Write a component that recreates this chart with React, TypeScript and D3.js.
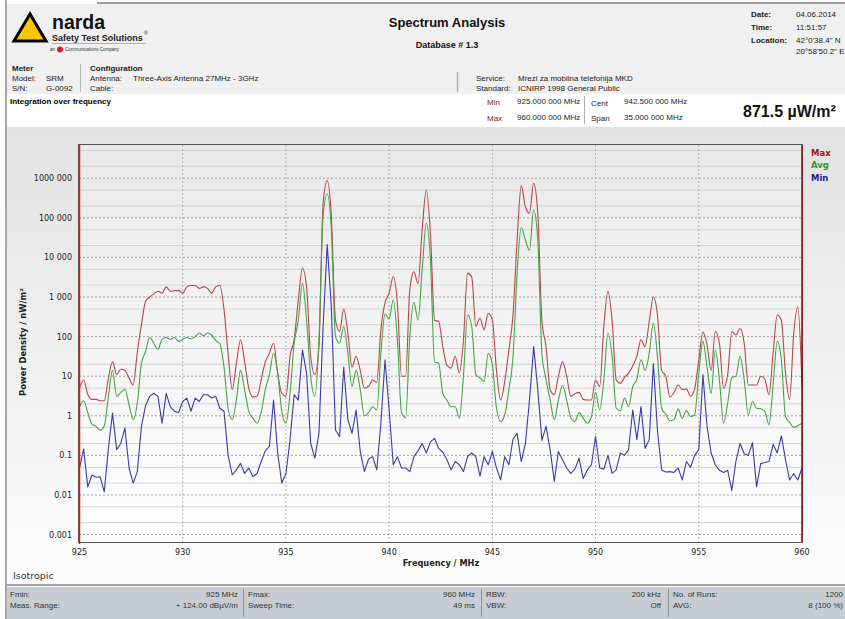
import React from 'react';
import * as d3 from 'd3';

// sweep points, 0.2 MHz apart
const freqStart = 925;
const freqStep = 0.2;

// Max trace, nW/m²
const maxVals = [
  5, 8, 3.5, 2.6, 2.6, 2.4, 2.4, 9, 23, 11,
  15, 14, 9, 6, 40, 200, 780, 1000, 1200, 1400,
  1250, 1800, 1400, 1450, 1450, 1250, 1800, 1950, 1950, 1650,
  1800, 1650, 1250, 1800, 1950, 480, 36, 4.6, 21, 83,
  23, 5, 3, 3.1, 8, 23, 38, 68, 12, 3.7,
  3.1, 32, 85, 850, 5400, 1800, 32, 11, 56, 230000,
  870000, 108000, 260, 135, 490, 123, 17, 32, 14, 5,
  5.5, 8, 7, 150, 720, 1250, 3300, 690, 10, 10,
  1500, 4300, 2200, 50000, 510000, 41000, 260, 240, 56, 19,
  16, 32, 12, 83, 4000, 3200, 180, 290, 150, 390,
  260, 14, 2.5, 7.4, 46, 350, 28000, 650000, 190000, 130000,
  750000, 130000, 260, 56, 4.6, 3.4, 10, 23, 10, 3.1,
  3.6, 3.9, 2.6, 2.5, 2.5, 8, 5.5, 180, 1400, 260,
  8, 6.6, 9.3, 12, 18, 32, 83, 56, 240, 1000,
  340, 14, 10, 3, 3.9, 6, 4.6, 4.8, 3.1, 4.7,
  26, 130, 62, 14, 135, 68, 5, 11, 135, 110,
  160, 68, 6, 6, 6, 10, 8.4, 3.4, 38, 350,
  260, 12, 2.6, 120, 570, 5.5,
];

// Avg trace, nW/m²
const avgVals = [
  1.7, 2.4, 1.2, 0.62, 0.54, 0.43, 0.56, 3.1, 14, 3.1,
  3.9, 4.7, 1.9, 0.8, 2.1, 21, 42, 95, 68, 48,
  85, 95, 85, 95, 76, 85, 95, 87, 100, 123,
  105, 123, 110, 80, 66, 17, 1.55, 0.8, 2.5, 14,
  4.6, 1.3, 0.87, 0.65, 1.2, 4.6, 11, 38, 12, 1.3,
  0.65, 3.7, 68, 260, 2300, 260, 10, 3.1, 83, 108000,
  400000, 50000, 100, 68, 180, 38, 5.5, 14, 4.6, 1.0,
  1.2, 1.7, 1.4, 38, 370, 280, 850, 83, 1.2, 0.9,
  100, 740, 260, 4900, 73000, 8700, 23, 21, 3.7, 2.5,
  1.7, 1.7, 0.87, 10, 350, 180, 11, 9, 7.4, 38,
  20, 1.55, 0.72, 1.05, 4.6, 30, 4000, 57000, 28000, 15000,
  160000, 28000, 38, 8.3, 2.5, 0.8, 2.5, 5.8, 2.5, 0.9,
  0.71, 1.2, 0.87, 0.65, 0.96, 3.9, 1.4, 8, 123, 32,
  1.55, 1.35, 2.8, 1.7, 5.5, 8.3, 26, 14, 38, 220,
  30, 1.55, 1.1, 0.75, 0.8, 1.5, 0.87, 1.35, 0.96, 1.05,
  12, 76, 17, 3.7, 46, 8, 0.65, 2.1, 9.3, 10,
  32, 8, 1.05, 2.3, 1.55, 1.5, 1.3, 0.59, 6, 76,
  26, 0.96, 0.68, 0.51, 0.56, 0.65,
];

// Min trace, nW/m²
const minVals = [
  0.048, 0.145, 0.016, 0.032, 0.028, 0.029, 0.012, 0.15, 1.17, 0.14,
  0.2, 0.49, 0.048, 0.02, 0.039, 0.54, 1.8, 3.1, 3.7, 3.1,
  0.65, 3.7, 1.7, 1.3, 1.2, 2.3, 2.8, 1.3, 2.8, 2.3,
  3.4, 3.4, 2.8, 3.1, 1.55, 1.3, 0.1, 0.032, 0.043, 0.063,
  0.035, 0.048, 0.029, 0.035, 0.07, 0.13, 0.17, 2.5, 0.115, 0.02,
  0.035, 0.25, 3.4, 2.5, 46, 12, 0.2, 0.085, 0.36, 180,
  21000, 570, 0.44, 0.3, 17, 0.8, 0.36, 1.4, 0.126, 0.039,
  0.08, 0.093, 0.043, 0.65, 26, 1.4, 0.058, 0.093, 0.048, 0.048,
  0.039, 0.093, 0.13, 0.2, 0.115, 0.22, 0.27, 0.15, 0.12, 0.078,
  0.043, 0.07, 0.058, 0.039, 0.093, 0.115, 0.093, 0.03, 0.093, 0.058,
  0.126, 0.048, 0.024, 0.093, 0.058, 0.26, 0.36, 0.07, 0.2, 2.5,
  56, 4.6, 0.24, 0.54, 0.14, 0.022, 0.126, 0.078, 0.048, 0.035,
  0.045, 0.085, 0.026, 0.043, 0.058, 0.3, 0.048, 0.045, 0.1, 0.035,
  0.043, 0.115, 0.1, 0.14, 1.4, 0.25, 1.7, 0.15, 0.25, 21,
  0.4, 0.043, 0.038, 0.039, 0.037, 0.048, 0.024, 0.07, 0.05, 0.1,
  0.14, 11, 0.54, 0.115, 0.058, 0.042, 0.037, 0.042, 0.013, 0.072,
  0.2, 0.11, 0.1, 0.21, 0.016, 0.062, 0.066, 0.07, 0.19, 0.115,
  0.31, 0.078, 0.024, 0.035, 0.024, 0.048,
];

const xTicks = [925, 930, 935, 940, 945, 950, 955, 960];
const yTicks = [1e6, 1e5, 1e4, 1e3, 100, 10, 1, 0.1, 0.01, 0.001];
const yTickLabels = ['1000 000', '100 000', '10 000', '1 000', '100', '10', '1', '0.1', '0.01', '0.001'];

const series = [
  { name: 'Max', values: maxVals, color: '#b4474c', text: '#a01414', smooth: true },
  { name: 'Avg', values: avgVals, color: '#45a545', text: '#2f9a2f', smooth: true },
  { name: 'Min', values: minVals, color: '#3b3ba8', text: '#1e1e8e', smooth: false },
];

const footerRows = [
  [['Fmin:', '925 MHz'], ['Fmax:', '960 MHz'], ['RBW:', '200 kHz'], ['No. of Runs:', '1200']],
  [['Meas. Range:', '+ 124.00 dBµV/m'], ['Sweep Time:', '49 ms'], ['VBW:', 'Off'], ['AVG:', '8  (100 %)']],
];

const W = 845;
const H = 619;
const plot = { left: 79, right: 802, top: 145, bottom: 542 };

export default function App() {
  const x = d3.scaleLinear().domain([925, 960]).range([plot.left + 0.5, plot.right]);
  const y = d3.scaleLog().domain([6.5e-4, 6.9e6]).range([plot.bottom, plot.top]);

  const makeLine = (smooth: boolean) => d3.line<number>()
    .x((_, i) => x(freqStart + i * freqStep))
    .y((d) => y(d))
    .curve(smooth ? d3.curveMonotoneX : d3.curveLinear);

  // minor grid at 2x and 5x of each decade
  const minor: number[] = [];
  for (let e = -4; e <= 6; e++) {
    [2, 5].forEach((m) => {
      const v = m * Math.pow(10, e);
      if (v > 6.5e-4 && v < 6.9e6) minor.push(v);
    });
  }

  const sans = 'Liberation Sans, Arial, sans-serif';
  const dv = 'DejaVu Sans, Verdana, sans-serif';
  const footX = [[10, 238], [248, 475], [486, 661], [673, 843]];

  return (
    <div style={{ position: 'absolute', left: 0, top: 0, width: W, height: H }}>
      <svg width={W} height={H} style={{ display: 'block' }}>
        <defs>
          <linearGradient id="panelBg" x1="0" y1="0" x2="0" y2="1">
            <stop offset="0" stopColor="#e2e2e2" />
            <stop offset="1" stopColor="#fdfdfd" />
          </linearGradient>
          <linearGradient id="plotBg" x1="0" y1="0" x2="0" y2="1">
            <stop offset="0" stopColor="#e9e9e9" />
            <stop offset="1" stopColor="#ffffff" />
          </linearGradient>
          <clipPath id="plotClip">
            <rect x={plot.left} y={plot.top} width={plot.right - plot.left} height={plot.bottom - plot.top} />
          </clipPath>
        </defs>

        <rect x={0} y={0} width={W} height={H} fill="#ffffff" />

        {/* header */}
        <rect x={7} y={4} width={W - 7} height={90} fill="#f0f0f0" />
        <rect x={97} y={2} width={W - 97} height={2} fill="#9c9c9c" />
        <rect x={7} y={94} width={W - 7} height={33} fill="#ffffff" />

        <polygon points="14,41 30,14 46,41" fill="#f7c600" stroke="#000" strokeWidth={3} strokeLinejoin="miter" />
        <text x={52} y={28.5} fontFamily={sans} fontWeight="bold" fontSize={19.5} fill="#111">narda</text>
        <text x={52} y={41} fontFamily={sans} fontWeight="bold" fontSize={9} fill="#222">Safety Test Solutions</text>
        <text x={144} y={35} fontFamily={sans} fontSize={5} fill="#222">®</text>
        <line x1={52} y1={43.5} x2={146} y2={43.5} stroke="#b0b0b0" />
        <text x={50} y={51} fontFamily={sans} fontSize={4.5} fill="#333">an</text>
        <circle cx={60} cy={49.5} r={3} fill="#d42020" />
        <text x={65} y={51} fontFamily={sans} fontSize={4.5} fill="#333">Communications Company</text>

        <g fontFamily={sans} fontSize={8} fill="#222">
          <text x={12} y={71} fontWeight="bold">Meter</text>
          <text x={12} y={81}>Model:</text>
          <text x={46} y={81}>SRM</text>
          <text x={12} y={91}>S/N:</text>
          <text x={46} y={91}>G-0092</text>
          <text x={90} y={71} fontWeight="bold">Configuration</text>
          <text x={90} y={81}>Antenna:</text>
          <text x={133} y={81}>Three-Axis Antenna 27MHz - 3GHz</text>
          <text x={90} y={91}>Cable:</text>

          <text x={447} y={27} fontSize={13} fontWeight="bold" textAnchor="middle" fill="#111">Spectrum Analysis</text>
          <text x={447} y={48} fontSize={9} fontWeight="bold" textAnchor="middle" fill="#111">Database # 1.3</text>

          <text x={751} y={17} fontWeight="bold">Date:</text>
          <text x={796} y={17}>04.06.2014</text>
          <text x={751} y={30} fontWeight="bold">Time:</text>
          <text x={796} y={30}>11:51:57</text>
          <text x={751} y={43} fontWeight="bold">Location:</text>
          <text x={796} y={43}>42°0'38.4" N</text>
          <text x={796} y={54}>20°58'50.2" E</text>

          <text x={476} y={81}>Service:</text>
          <text x={518} y={81}>Mrezi za mobilna telefonija MKD</text>
          <text x={476} y={91}>Standard:</text>
          <text x={518} y={91}>ICNIRP 1998 General Public</text>

          <text x={10} y={104} fontWeight="bold" fill="#000">Integration over frequency</text>
          <text x={487} y={105} fill="#6a2a2a">Min</text>
          <text x={517} y={104}>925.000 000 MHz</text>
          <text x={487} y={121} fill="#6a2a2a">Max</text>
          <text x={517} y={120}>960.000 000 MHz</text>
          <text x={591} y={106}>Cent</text>
          <text x={624} y={104}>942.500 000 MHz</text>
          <text x={591} y={121}>Span</text>
          <text x={624} y={120}>35.000 000 MHz</text>
          <text x={743} y={117} fontSize={16} fontWeight="bold" fill="#111">871.5 µW/m²</text>
        </g>
        <line x1={80.5} y1={64} x2={80.5} y2={92} stroke="#b8b8b8" />
        <line x1={457.5} y1={72} x2={457.5} y2={92} stroke="#b0b0b0" strokeWidth={1.5} />
        <line x1={584.5} y1={96} x2={584.5} y2={124} stroke="#b0b0b0" />

        {/* chart panel */}
        <rect x={7} y={127} width={W - 7} height={458} fill="url(#panelBg)" />
        <rect x={plot.left} y={plot.top} width={plot.right - plot.left} height={plot.bottom - plot.top} fill="url(#plotBg)" />

        {minor.map((v) => (
          <line key={'m' + v} x1={plot.left} x2={plot.right} y1={y(v)} y2={y(v)} stroke="#d2d2d2" strokeWidth={1} />
        ))}
        {yTicks.map((v) => (
          <line key={'g' + v} x1={plot.left} x2={plot.right} y1={y(v)} y2={y(v)} stroke="#a0a0a0" strokeDasharray="2,2" />
        ))}
        {xTicks.slice(1, -1).map((v) => (
          <line key={'v' + v} x1={x(v)} x2={x(v)} y1={plot.top} y2={plot.bottom} stroke="#b0b0b0" strokeDasharray="2,2" />
        ))}

        <g clipPath="url(#plotClip)" fill="none">
          {series.map((s) => (
            <path key={s.name} d={makeLine(s.smooth)(s.values) || ''} stroke={s.color} strokeWidth={1.1} strokeLinejoin="round" />
          ))}
        </g>

        <rect x={plot.left - 0.5} y={plot.top - 0.5} width={plot.right - plot.left + 1} height={plot.bottom - plot.top + 1} fill="none" stroke="#555" />
        <line x1={plot.left + 0.5} x2={plot.left + 0.5} y1={plot.top} y2={plot.bottom + 2} stroke="#e01818" strokeWidth={1.5} />
        <line x1={plot.right} x2={plot.right} y1={plot.top} y2={plot.bottom} stroke="#8e0c0c" strokeWidth={1.5} />

        <g fontFamily={dv} fontSize={8} fill="#222">
          {yTicks.map((v, i) => (
            <text key={'yl' + v} x={72} y={y(v) + 3} textAnchor="end">{yTickLabels[i]}</text>
          ))}
          {xTicks.map((v) => (
            <text key={'xl' + v} x={x(v)} y={555} textAnchor="middle">{v}</text>
          ))}
          <text x={441} y={566} textAnchor="middle" fontWeight="bold" fontSize={8.2}>Frequency / MHz</text>
          <text transform="translate(26,342) rotate(-90)" textAnchor="middle" fontWeight="bold" fontSize={8.4}>Power Density / nW/m²</text>
        </g>

        {series.map((s, i) => (
          <text key={'lg' + s.name} x={811} y={155.5 + i * 12.7} fontFamily={dv} fontWeight="bold" fontSize={8.5} fill={s.text}>{s.name}</text>
        ))}

        <text x={13} y={579} fontFamily={dv} fontSize={9.5} fill="#333">Isotropic</text>

        {/* footer */}
        <rect x={7} y={584} width={W - 7} height={2} fill="#a4a4a4" />
        <rect x={7} y={587} width={W - 7} height={H - 587} fill="#c8cdd3" />
        {[243, 481, 668].map((sx) => (
          <line key={'fs' + sx} x1={sx + 0.5} x2={sx + 0.5} y1={589} y2={617} stroke="#8c939b" />
        ))}
        <g fontFamily={sans} fontSize={8} fill="#333">
          {footerRows.map((row, r) =>
            row.map((cell, c) => (
              <g key={'f' + r + c}>
                <text x={footX[c][0]} y={597 + r * 11}>{cell[0]}</text>
                <text x={footX[c][1]} y={597 + r * 11} textAnchor="end">{cell[1]}</text>
              </g>
            ))
          )}
        </g>

        <rect x={5} y={0} width={2} height={H} fill="#a8a8a8" />
      </svg>
    </div>
  );
}
